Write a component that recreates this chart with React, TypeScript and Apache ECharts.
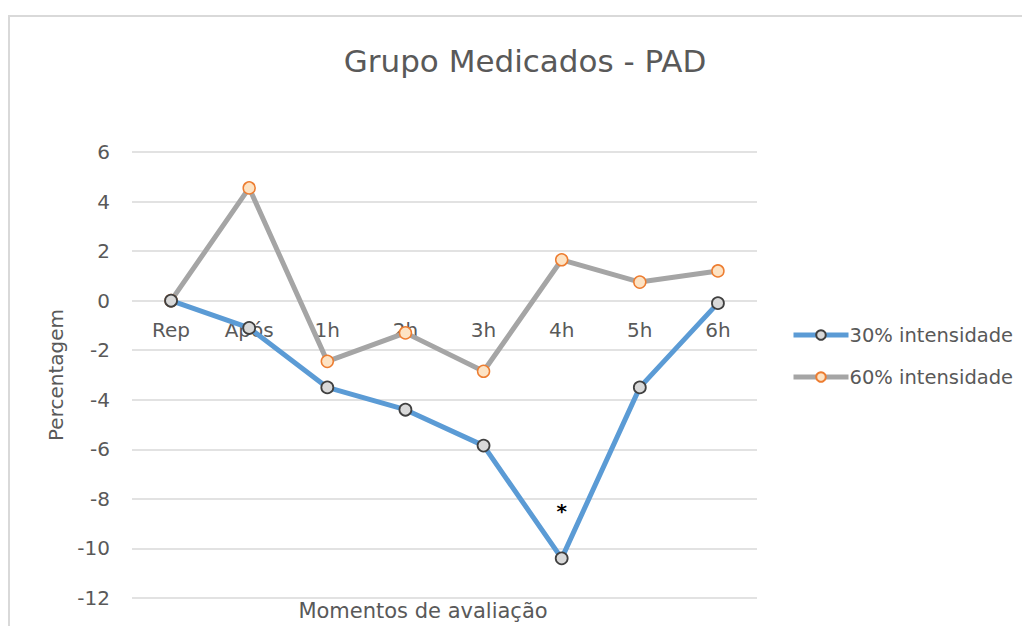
import React, { useEffect, useRef } from "react";
import * as echarts from "echarts";

const categories = ["Rep", "Após", "1h", "2h", "3h", "4h", "5h", "6h"];
const series30 = [0, -1.1, -3.5, -4.4, -5.85, -10.4, -3.5, -0.1];
const series60 = [0, 4.55, -2.45, -1.3, -2.85, 1.65, 0.75, 1.2];
const seriesNames = ["30% intensidade", "60% intensidade"];
const significance = { category: "4h", value: -8.4, mark: "*" };
const yTicks = { min: -12, max: 6, interval: 2 };

const FONT = "DejaVu Sans";
const TXT = "#595959";
const GRID_TOP = 152;
const GRID_BOTTOM = 28;
const HEIGHT = 626;
// place the category axis at value 0
const plotH = HEIGHT - GRID_TOP - GRID_BOTTOM;
const zeroOffset = -plotH * (0 - yTicks.min) / (yTicks.max - yTicks.min);

export default function App() {
  const ref = useRef<HTMLDivElement>(null);
  useEffect(() => {
    if (!ref.current) return;
    const chart = echarts.init(ref.current, undefined, { renderer: "svg" });
    chart.setOption({
      animation: false,
      backgroundColor: "#ffffff",
      textStyle: { fontFamily: FONT },
      title: {
        text: "Grupo Medicados - PAD",
        left: 520,
        top: 40,
        textAlign: "center",
        textStyle: { fontFamily: FONT, fontSize: 31, fontWeight: "normal", color: TXT },
      },
      graphic: [
        {
          type: "rect",
          shape: { x: 9, y: 16, width: 1200, height: 800 },
          style: { fill: "none", stroke: "#d9d9d9", lineWidth: 2 },
          silent: true,
        },
        {
          type: "text",
          x: 423,
          y: 611,
          style: {
            text: "Momentos de avaliação",
            font: `21px "${FONT}"`,
            fill: TXT,
            textAlign: "center",
            textVerticalAlign: "middle",
          },
        },
      ],
      legend: {
        orient: "vertical",
        left: 786,
        top: 320,
        itemGap: 22,
        itemWidth: 55,
        itemHeight: 12,
        lineStyle: { width: 5 },
        textStyle: { fontFamily: FONT, fontSize: 19.5, color: TXT, padding: [0, 0, 0, -4] },
        data: seriesNames,
      },
      grid: { left: 132, right: 265, top: GRID_TOP, bottom: GRID_BOTTOM, containLabel: false, outerBoundsMode: "none" },
      xAxis: {
        type: "category",
        data: categories,
        boundaryGap: true,
        position: "bottom",
        offset: zeroOffset,
        axisLine: { show: false, onZero: false },
        axisTick: { show: false },
        axisLabel: { fontSize: 20, color: TXT, margin: 19, fontFamily: FONT },
        splitLine: { show: false },
      },
      yAxis: {
        type: "value",
        min: yTicks.min,
        max: yTicks.max,
        interval: yTicks.interval,
        name: "Percentagem",
        nameLocation: "middle",
        nameRotate: 90,
        nameGap: 62,
        nameTextStyle: { fontSize: 20, color: TXT, fontFamily: FONT },
        axisLine: { show: false },
        axisTick: { show: false },
        axisLabel: { fontSize: 20, color: TXT, margin: 22, fontFamily: FONT },
        splitLine: { lineStyle: { color: "#d9d9d9", width: 1.5 } },
      },
      series: [
        {
          name: seriesNames[0],
          type: "line",
          data: series30,
          symbol: "circle",
          symbolSize: 12,
          lineStyle: { color: "#5b9bd5", width: 5 },
          itemStyle: { color: "#d9d9d9", borderColor: "#404040", borderWidth: 1.8 },
          z: 3,
          markPoint: {
            symbol: "circle",
            symbolSize: 0,
            data: [{ coord: [significance.category, significance.value] }],
            label: {
              show: true,
              formatter: significance.mark,
              position: "inside",
              color: "#000000",
              fontSize: 20,
              fontWeight: "bold",
              fontFamily: FONT,
              offset: [0, 2],
            },
          },
        },
        {
          name: seriesNames[1],
          type: "line",
          data: series60,
          symbol: "circle",
          symbolSize: 12,
          lineStyle: { color: "#a5a5a5", width: 5 },
          itemStyle: { color: "#fde3c4", borderColor: "#ed7d31", borderWidth: 1.5 },
          z: 2,
        },
      ],
    });
    return () => chart.dispose();
  }, []);
  return (
    <div
      ref={ref}
      style={{ position: "fixed", left: 0, top: 0, width: 1022, height: 626 }}
    />
  );
}
